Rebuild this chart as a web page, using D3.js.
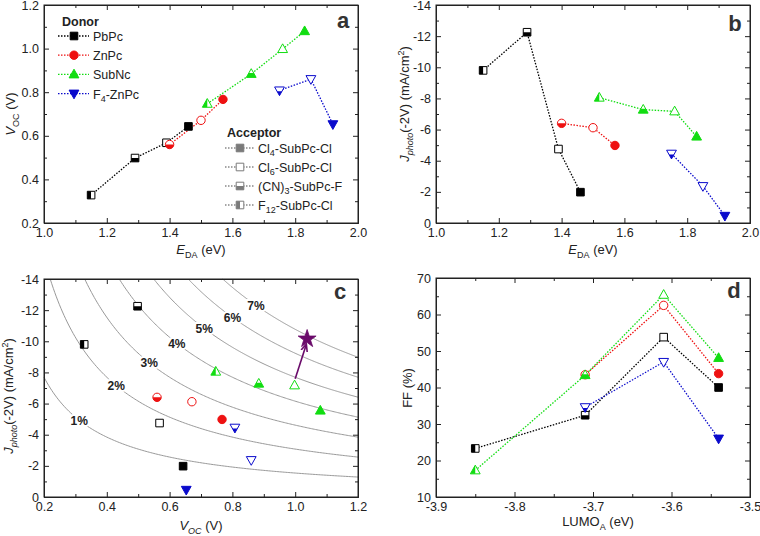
<!DOCTYPE html>
<html><head><meta charset="utf-8">
<script src="https://cdn.jsdelivr.net/npm/d3@7"></script>
<style>
body{margin:0;background:#fff;}
svg{display:block;font-family:"Liberation Sans",Arial,sans-serif;}
</style></head>
<body><svg id="chart" width="760" height="536"></svg>
<script>
// ---------------- data ----------------
const donors = ["PbPc", "ZnPc", "SubNc", "F4-ZnPc"];
const donorColors = ["#000000", "#ee1111", "#11dd11", "#0a0acc"];
const donorShapes = ["square", "circle", "up", "down"];
const acceptors = ["Cl4-SubPc-Cl", "Cl6-SubPc-Cl", "(CN)3-SubPc-F", "F12-SubPc-Cl"];
const acceptorKeys = ["Cl4", "Cl6", "CN3", "F12"];
const acceptorLumo = [-3.54, -3.61, -3.71, -3.85];

const pbpcAcc = ["F12", "CN3", "Cl6", "Cl4"];
const pbpcEda = [1.15, 1.29, 1.39, 1.46];
const pbpcVoc = [0.328, 0.498, 0.568, 0.643];
const pbpcJ = [-9.8, -12.25, -4.75, -1.98];
const pbpcFF = [23.3, 32.4, 53.8, 40.0];

const znpcAcc = ["CN3", "Cl6", "Cl4"];
const znpcEda = [1.40, 1.50, 1.57];
const znpcVoc = [0.56, 0.671, 0.767];
const znpcJ = [-6.4, -6.12, -4.98];
const znpcFF = [43.5, 62.5, 43.8];

const subncAcc = ["F12", "CN3", "Cl6", "Cl4"];
const subncEda = [1.52, 1.66, 1.76, 1.83];
const subncVoc = [0.747, 0.884, 0.998, 1.08];
const subncJ = [-8.05, -7.28, -7.17, -5.55];
const subncFF = [17.3, 43.4, 65.4, 48.1];

const f4Acc = ["CN3", "Cl6", "Cl4"];
const f4Eda = [1.75, 1.85, 1.92];
const f4Voc = [0.808, 0.86, 0.653];
const f4J = [-4.45, -2.37, -0.46];
const f4FF = [34.6, 47.0, 26.0];

// iso-efficiency guide curves (panel c)
const effLevels = [1, 2, 3, 4, 5, 6, 7];
const effLabelVoc = [0.312, 0.43, 0.535, 0.623, 0.71, 0.80, 0.875];
const assumedFF = 0.65;
// projected device (star) and arrow start
const starPoint = {voc: 1.038, j: -10.15};
const arrowStart = {voc: 1.0, j: -7.6};

// ticks
const edaTicks = [1.0, 1.2, 1.4, 1.6, 1.8, 2.0];
const edaMinor = [1.1, 1.3, 1.5, 1.7, 1.9];
const vocATicks = [0.2, 0.4, 0.6, 0.8, 1.0, 1.2];
const vocAMinor = [0.3, 0.5, 0.7, 0.9, 1.1];
const vocTicks = [0.2, 0.4, 0.6, 0.8, 1.0, 1.2];
const vocMinor = [0.3, 0.5, 0.7, 0.9, 1.1];
const jTicks = [0, -2, -4, -6, -8, -10, -12, -14];
const jMinor = [-1, -3, -5, -7, -9, -11, -13];
const lumoTicks = [-3.9, -3.8, -3.7, -3.6, -3.5];
const lumoMinor = [-3.85, -3.75, -3.65, -3.55];
const ffTicks = [10, 20, 30, 40, 50, 60, 70];
const ffMinor = [15, 25, 35, 45, 55, 65];

const series = [
  {acc: pbpcAcc, eda: pbpcEda, voc: pbpcVoc, j: pbpcJ, ff: pbpcFF},
  {acc: znpcAcc, eda: znpcEda, voc: znpcVoc, j: znpcJ, ff: znpcFF},
  {acc: subncAcc, eda: subncEda, voc: subncVoc, j: subncJ, ff: subncFF},
  {acc: f4Acc, eda: f4Eda, voc: f4Voc, j: f4J, ff: f4FF}
].map((s, i) => ({
  name: donors[i], color: donorColors[i], shape: donorShapes[i],
  pts: s.acc.map((a, k) => ({acc: a, eda: s.eda[k], voc: s.voc[k], j: s.j[k], ff: s.ff[k],
    lumo: acceptorLumo[acceptorKeys.indexOf(a)]}))
}));

// ---------------- drawing ----------------
const svg = d3.select("#chart");
const defs = svg.append("defs");

const shapes = {
  square: {d: "M-3.8,-3.8h7.6v7.6h-7.6z", mid: 0},
  circle: {d: "M4.2,0A4.2,4.2 0 1,1 -4.2,0A4.2,4.2 0 1,1 4.2,0z", mid: 0},
  up: {d: "M0,-5.2L4.9,3.5L-4.9,3.5z", mid: -0.8},
  down: {d: "M0,5.2L4.9,-3.5L-4.9,-3.5z", mid: 0.8}
};
Object.entries(shapes).forEach(([k, s]) => {
  defs.append("clipPath").attr("id", "cb-" + k)
    .append("rect").attr("x", -10).attr("y", s.mid).attr("width", 20).attr("height", 20);
});
defs.append("clipPath").attr("id", "cl")
  .append("rect").attr("x", -10).attr("y", -10).attr("width", 10).attr("height", 20);
const mk = defs.append("marker").attr("id", "arrowhead").attr("viewBox", "0 0 10 10")
  .attr("refX", 8).attr("refY", 5).attr("markerWidth", 5).attr("markerHeight", 5)
  .attr("orient", "auto-start-reverse");
mk.append("path").attr("d", "M0,1L9,5L0,9").attr("fill", "none").attr("stroke", "#6a0a6a").attr("stroke-width", 2);

function drawMarker(g, shape, acc, color, x, y) {
  const m = g.append("g").attr("transform", `translate(${x},${y})`);
  const s = shapes[shape];
  m.append("path").attr("d", s.d).attr("fill", acc === "Cl4" ? color : "#fff");
  if (acc === "CN3") m.append("path").attr("d", s.d).attr("fill", color).attr("clip-path", `url(#cb-${shape})`);
  if (acc === "F12") m.append("path").attr("d", s.d).attr("fill", color).attr("clip-path", "url(#cl)");
  m.append("path").attr("d", s.d).attr("fill", "none").attr("stroke", color).attr("stroke-width", 1);
}

function frame(g, x, y, xt, xm, yt, ym, xfmt, yfmt) {
  const [x0, x1] = x.range(), [y0, y1] = y.range();
  const mkAxis = (gen, ticks, size, fmt) => gen.tickValues(ticks).tickSizeInner(size).tickSizeOuter(0)
    .tickPadding(5).tickFormat(fmt || (() => ""));
  const specs = [
    [() => d3.axisBottom(x), `translate(0,${y0})`, xt, xm, xfmt],
    [() => d3.axisTop(x), `translate(0,${y1})`, xt, xm, null],
    [() => d3.axisLeft(y), `translate(${x0},0)`, yt, ym, yfmt],
    [() => d3.axisRight(y), `translate(${x1},0)`, yt, ym, null]
  ];
  specs.forEach(([gen, tr, t, m, fmt]) => {
    g.append("g").attr("transform", tr).attr("class", "ax").call(mkAxis(gen(), t, -5, fmt));
    g.append("g").attr("transform", tr).attr("class", "ax").call(mkAxis(gen(), m, -3, null));
  });
  g.selectAll(".ax path.domain").attr("stroke", "#222").attr("stroke-width", 1);
  g.selectAll(".ax line").attr("stroke", "#222");
  g.selectAll(".ax text").attr("font-size", 12.5).attr("fill", "#222").attr("font-family", "Liberation Sans, Arial, sans-serif");
  g.append("rect").attr("x", x0).attr("y", y1).attr("width", x1 - x0).attr("height", y0 - y1)
    .attr("fill", "none").attr("stroke", "#222").attr("stroke-width", 1);
}

const f1 = d => d.toFixed(1);
const f0 = d => d.toFixed(0);

function lines(g, xs, ys, xk, yk) {
  series.forEach(s => {
    const pts = s.pts.slice().sort((a, b) => a[xk] - b[xk]);
    g.append("path").attr("d", d3.line().x(d => xs(d[xk])).y(d => ys(d[yk]))(pts))
      .attr("fill", "none").attr("stroke", s.color).attr("stroke-width", 1.3).attr("stroke-dasharray", "1.5,1.5");
  });
}
function points(g, xs, ys, xk, yk) {
  series.forEach(s => s.pts.forEach(p => drawMarker(g, s.shape, p.acc, s.color, xs(p[xk]), ys(p[yk]))));
}
function panelLetter(x, y, t) {
  svg.append("text").attr("x", x).attr("y", y).attr("font-size", 22).attr("font-weight", "bold")
    .attr("fill", "#333").attr("text-anchor", "middle").text(t);
}

// ---- panel a ----
const xa = d3.scaleLinear().domain([1.0, 2.0]).range([44, 358]);
const ya = d3.scaleLinear().domain([0.2, 1.2]).range([223, 5]);
const ga = svg.append("g");
frame(ga, xa, ya, edaTicks, edaMinor, vocATicks, vocAMinor, f1, f1);
lines(ga, xa, ya, "eda", "voc");
points(ga, xa, ya, "eda", "voc");
panelLetter(343, 28, "a");

// legends
const lg = svg.append("g").attr("font-size", 12.5).attr("fill", "#222");
lg.append("text").attr("x", 62).attr("y", 26).attr("font-weight", "bold").text("Donor");
const donorLabels = [["PbPc"], ["ZnPc"], ["SubNc"], ["F", "4", "-ZnPc"]];
series.forEach((s, i) => {
  const y = 36 + i * 19.2;
  lg.append("line").attr("x1", 58).attr("x2", 89).attr("y1", y).attr("y2", y)
    .attr("stroke", s.color).attr("stroke-width", 1.3).attr("stroke-dasharray", "1.5,1.5");
  drawMarker(lg, s.shape, "Cl4", s.color, 74, y);
  const t = lg.append("text").attr("x", 93).attr("y", y + 5);
  const parts = donorLabels[i];
  t.append("tspan").text(parts[0]);
  if (parts.length > 1) {
    t.append("tspan").attr("font-size", 9).attr("dy", 3).text(parts[1]);
    t.append("tspan").attr("dy", -3).text(parts[2]);
  }
});
lg.append("text").attr("x", 227).attr("y", 137).attr("font-weight", "bold").text("Acceptor");
const accLabels = [["Cl", "4", "-SubPc-Cl"], ["Cl", "6", "-SubPc-Cl"], ["(CN)", "3", "-SubPc-F"], ["F", "12", "-SubPc-Cl"]];
const accLegendOrder = ["Cl4", "Cl6", "CN3", "F12"];
accLegendOrder.forEach((a, i) => {
  const y = 148 + i * 19;
  lg.append("line").attr("x1", 225).attr("x2", 254).attr("y1", y).attr("y2", y)
    .attr("stroke", "#888").attr("stroke-width", 1.3).attr("stroke-dasharray", "1.5,1.5");
  drawMarker(lg, "square", a, "#7a7a7a", 240, y);
  const t = lg.append("text").attr("x", 258).attr("y", y + 5);
  t.append("tspan").text(accLabels[i][0]);
  t.append("tspan").attr("font-size", 9).attr("dy", 3).text(accLabels[i][1]);
  t.append("tspan").attr("dy", -3).text(accLabels[i][2]);
});

// axis titles helper
function title(x, y, rot, parts) {
  const t = svg.append("text").attr("font-size", 13).attr("fill", "#222").attr("text-anchor", "middle")
    .attr("transform", `translate(${x},${y}) rotate(${rot})`);
  let cur = 0;
  parts.forEach(p => {
    const ts = t.append("tspan").text(p.t);
    if (p.i) ts.attr("font-style", "italic");
    const target = p.sub ? 3.5 : p.sup ? -5 : 0;
    if (p.sub || p.sup) ts.attr("font-size", 9);
    if (target !== cur) { ts.attr("dy", target - cur); cur = target; }
  });
}
const eTitle = [{t: "E", i: 1}, {t: "DA", sub: 1}, {t: " (eV)"}];
const jTitle = [{t: "J", i: 1}, {t: "photo", i: 1, sub: 1}, {t: "(-2V) (mA/cm"}, {t: "2", sup: 1}, {t: ")"}];
title(201, 254, 0, eTitle);
title(15, 114, -90, [{t: "V", i: 1}, {t: "OC", sub: 1}, {t: " (V)"}]);

// ---- panel b ----
const xb = d3.scaleLinear().domain([1.0, 2.0]).range([436, 750]);
const yb = d3.scaleLinear().domain([0, -14]).range([223, 5]);
const gb = svg.append("g");
frame(gb, xb, yb, edaTicks, edaMinor, jTicks, jMinor, f1, f0);
lines(gb, xb, yb, "eda", "j");
points(gb, xb, yb, "eda", "j");
panelLetter(735, 31, "b");
title(593, 254, 0, eTitle);
title(409, 104, -90, jTitle);

// ---- panel c ----
const xc = d3.scaleLinear().domain([0.2, 1.2]).range([44, 358]);
const yc = d3.scaleLinear().domain([0, -14]).range([497, 279]);
const gc = svg.append("g");
const curveG = gc.append("g");
effLevels.forEach((e, i) => {
  const vmin = Math.max(0.2, e / (assumedFF * 14));
  const vs = d3.range(0, 201).map(k => vmin + (1.2 - vmin) * k / 200);
  curveG.append("path").attr("d", d3.line().x(v => xc(v)).y(v => yc(-e / (assumedFF * v)))(vs))
    .attr("fill", "none").attr("stroke", "#999").attr("stroke-width", 1);
});
effLevels.forEach((e, i) => {
  const v = effLabelVoc[i];
  curveG.append("text").attr("x", xc(v)).attr("y", yc(-e / (assumedFF * v)) + 4.5)
    .attr("text-anchor", "middle").attr("font-size", 12).attr("font-weight", "bold").attr("fill", "#222")
    .attr("stroke", "#fff").attr("stroke-width", 4).attr("paint-order", "stroke").text(e + "%");
});
frame(gc, xc, yc, vocTicks, vocMinor, jTicks, jMinor, f1, f0);
points(gc, xc, yc, "voc", "j");
gc.append("line").attr("x1", xc(arrowStart.voc)).attr("y1", yc(arrowStart.j))
  .attr("x2", xc(starPoint.voc) - 1).attr("y2", yc(starPoint.j) + 6)
  .attr("stroke", "#6a0a6a").attr("stroke-width", 1.6).attr("marker-end", "url(#arrowhead)");
const starPath = d3.symbol().type(d3.symbolStar).size(100)();
gc.append("path").attr("d", starPath).attr("transform", `translate(${xc(starPoint.voc)},${yc(starPoint.j)})`)
  .attr("fill", "#6a0a6a").attr("stroke", "#6a0a6a").attr("stroke-width", 0.8);
panelLetter(340, 299, "c");
title(201, 530, 0, [{t: "V", i: 1}, {t: "OC", i: 1, sub: 1}, {t: " (V)"}]);
title(13, 396, -90, jTitle);

// ---- panel d ----
const xd = d3.scaleLinear().domain([-3.9, -3.5]).range([436, 750]);
const yd = d3.scaleLinear().domain([10, 70]).range([497, 278]);
const gd = svg.append("g");
frame(gd, xd, yd, lumoTicks, lumoMinor, ffTicks, ffMinor, f1, f0);
lines(gd, xd, yd, "lumo", "ff");
points(gd, xd, yd, "lumo", "ff");
panelLetter(734, 298, "d");
title(598, 526, 0, [{t: "LUMO"}, {t: "A", sub: 1}, {t: " (eV)"}]);
title(412, 388, -90, [{t: "FF (%)"}]);
</script></body></html>
